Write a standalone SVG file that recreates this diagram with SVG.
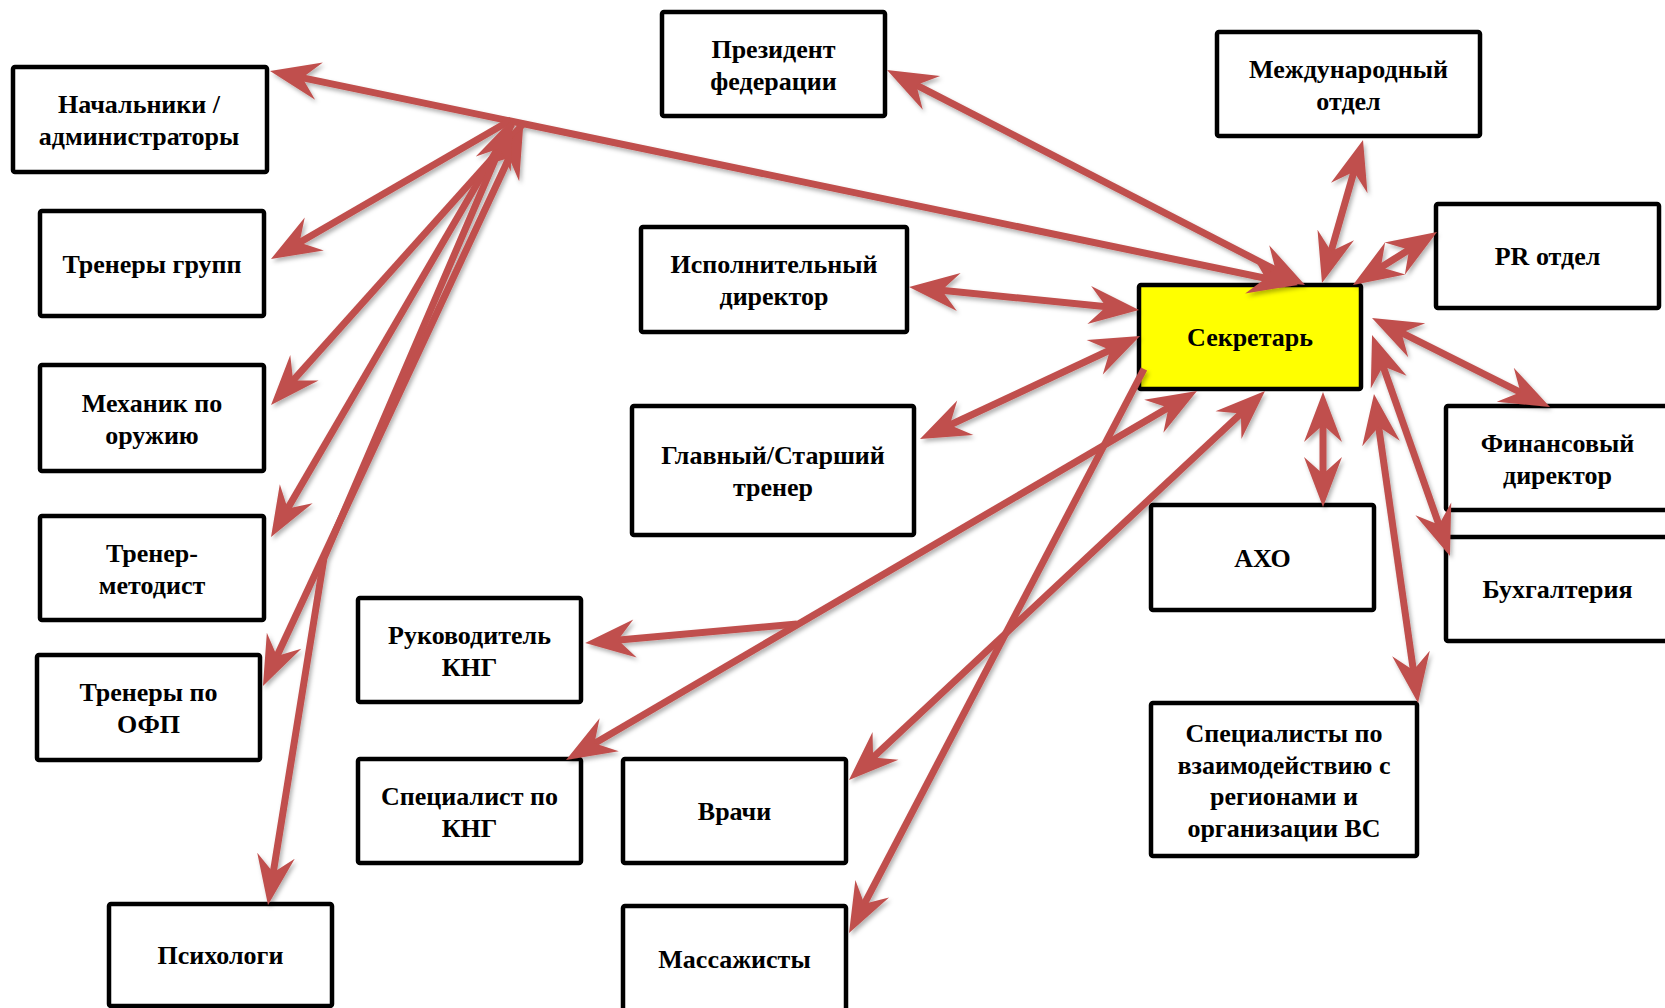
<svg xmlns="http://www.w3.org/2000/svg" width="1665" height="1008" viewBox="0 0 1665 1008">
<style>
.box{fill:#fff;stroke:#000;stroke-width:4.5}
.sec{fill:#ffff00;stroke:#000;stroke-width:4.5}
.t{font-family:"Liberation Serif","Times New Roman",serif;font-weight:bold;font-size:26px;text-anchor:middle;fill:#000}
.c{fill:none;stroke:#C0504D;stroke-width:7;stroke-linejoin:round}
</style>
<defs>
<marker id="ah" markerUnits="userSpaceOnUse" viewBox="-32 -21 54 42" markerWidth="54" markerHeight="42" refX="0" refY="0" orient="auto-start-reverse" overflow="visible">
<path d="M20,0 L-30,-19 L-13,0 L-30,19 Z" fill="#C0504D"/>
</marker>
<filter id="sh" x="-10%" y="-10%" width="120%" height="120%">
<feDropShadow dx="2" dy="3" stdDeviation="2" flood-color="#000" flood-opacity="0.3"/>
</filter>
</defs>
<rect width="1665" height="1008" fill="#fff"/>

<g id="n-nach"><rect class="box" x="13" y="67" width="254" height="105" rx="2"/><text class="t" x="139" y="113">Начальники /</text><text class="t" x="139" y="145">администраторы</text></g>
<g id="n-trgr"><rect class="box" x="40" y="211" width="224" height="105" rx="2"/><text class="t" x="152" y="272.5">Тренеры групп</text></g>
<g id="n-mech"><rect class="box" x="40" y="365" width="224" height="106" rx="2"/><text class="t" x="152" y="411.5">Механик по</text><text class="t" x="152" y="443.5">оружию</text></g>
<g id="n-metod"><rect class="box" x="40" y="516" width="224" height="104" rx="2"/><text class="t" x="152" y="561.5">Тренер-</text><text class="t" x="152" y="593.5">методист</text></g>
<g id="n-ofp"><rect class="box" x="37" y="655" width="223" height="105" rx="2"/><text class="t" x="148.5" y="701">Тренеры по</text><text class="t" x="148.5" y="733">ОФП</text></g>
<g id="n-psy"><rect class="box" x="109" y="904" width="223" height="102" rx="2"/><text class="t" x="220.5" y="964">Психологи</text></g>
<g id="n-rkng"><rect class="box" x="358" y="598" width="223" height="104" rx="2"/><text class="t" x="469.5" y="643.5">Руководитель</text><text class="t" x="469.5" y="675.5">КНГ</text></g>
<g id="n-skng"><rect class="box" x="358" y="759" width="223" height="104" rx="2"/><text class="t" x="469.5" y="804.5">Специалист по</text><text class="t" x="469.5" y="836.5">КНГ</text></g>
<g id="n-vrachi"><rect class="box" x="623" y="759" width="223" height="104" rx="2"/><text class="t" x="734.5" y="820">Врачи</text></g>
<g id="n-mass"><rect class="box" x="623" y="906" width="223" height="106" rx="2"/><text class="t" x="734.5" y="967.5">Массажисты</text></g>
<g id="n-pres"><rect class="box" x="662" y="12" width="223" height="104" rx="2"/><text class="t" x="773.5" y="57.5">Президент</text><text class="t" x="773.5" y="89.5">федерации</text></g>
<g id="n-isp"><rect class="box" x="641" y="227" width="266" height="105" rx="2"/><text class="t" x="774" y="273">Исполнительный</text><text class="t" x="774" y="305">директор</text></g>
<g id="n-glav"><rect class="box" x="632" y="406" width="282" height="129" rx="2"/><text class="t" x="773" y="464">Главный/Старший</text><text class="t" x="773" y="496">тренер</text></g>
<g id="n-sec"><rect class="sec" x="1139" y="285" width="222" height="104" rx="2"/><text class="t" x="1250" y="346">Секретарь</text></g>
<g id="n-mezh"><rect class="box" x="1217" y="32" width="263" height="104" rx="2"/><text class="t" x="1348.5" y="77.5">Международный</text><text class="t" x="1348.5" y="109.5">отдел</text></g>
<g id="n-pr"><rect class="box" x="1436" y="204" width="223" height="104" rx="2"/><text class="t" x="1547.5" y="265">PR отдел</text></g>
<g id="n-fin"><rect class="box" x="1446" y="406" width="223" height="104" rx="2"/><text class="t" x="1557.5" y="451.5">Финансовый</text><text class="t" x="1557.5" y="483.5">директор</text></g>
<g id="n-buh"><rect class="box" x="1446" y="537" width="223" height="104" rx="2"/><text class="t" x="1557.5" y="598">Бухгалтерия</text></g>
<g id="n-aho"><rect class="box" x="1151" y="505" width="223" height="105" rx="2"/><text class="t" x="1262.5" y="566.5">АХО</text></g>
<g id="n-reg"><rect class="box" x="1151" y="703" width="266" height="153" rx="2"/><text class="t" x="1284" y="742">Специалисты по</text><text class="t" x="1284" y="773.5">взаимодействию с</text><text class="t" x="1284" y="805">регионами и</text><text class="t" x="1284" y="836.5">организации ВС</text></g>

<g id="connectors" filter="url(#sh)">
<path class="c" d="M289.6,75.1 L1278.4,280.9" marker-start="url(#ah)" marker-end="url(#ah)"/>
<path class="c" d="M904.8,79.1 L1287.2,275.9" marker-start="url(#ah)" marker-end="url(#ah)"/>
<path class="c" d="M1357.5,159.2 L1327.5,263.8" marker-start="url(#ah)" marker-end="url(#ah)"/>
<path class="c" d="M1420.1,242.7 L1369.9,274.3" marker-start="url(#ah)" marker-end="url(#ah)"/>
<path class="c" d="M928.9,289 L1119.1,308" marker-start="url(#ah)" marker-end="url(#ah)"/>
<path class="c" d="M938.1,430.5 L1121.9,344.5" marker-start="url(#ah)" marker-end="url(#ah)"/>
<path class="c" d="M1179.7,401.1 L583.3,749.9" marker-start="url(#ah)" marker-end="url(#ah)"/>
<path class="c" d="M797,624 L605.1,641.2" marker-end="url(#ah)"/>
<path class="c" d="M1250.4,404.7 L863.6,766.3" marker-start="url(#ah)" marker-end="url(#ah)"/>
<path class="c" d="M1144,369 L858.3,915.3" marker-end="url(#ah)"/>
<path class="c" d="M1323,412 L1323,487" marker-start="url(#ah)" marker-end="url(#ah)"/>
<path class="c" d="M1389.9,326.9 L1532.1,398.1" marker-start="url(#ah)" marker-end="url(#ah)"/>
<path class="c" d="M1378.7,353.9 L1443.3,537.1" marker-start="url(#ah)" marker-end="url(#ah)"/>
<path class="c" d="M1376.8,413.8 L1415.2,683.2" marker-start="url(#ah)" marker-end="url(#ah)"/>
<path class="c" d="M511,120 L288.3,249" marker-end="url(#ah)"/>
<path class="c" d="M523,124 L284.4,390.1" marker-end="url(#ah)"/>
<path class="c" d="M512,124 L281.1,519.7" marker-end="url(#ah)"/>
<path class="c" d="M514.6,146.1 L271.4,667.9" marker-start="url(#ah)" marker-end="url(#ah)"/>
<path class="c" d="M505.1,136.4 L324,558 L271.2,885.3" marker-start="url(#ah)" marker-end="url(#ah)"/>
</g>
</svg>
